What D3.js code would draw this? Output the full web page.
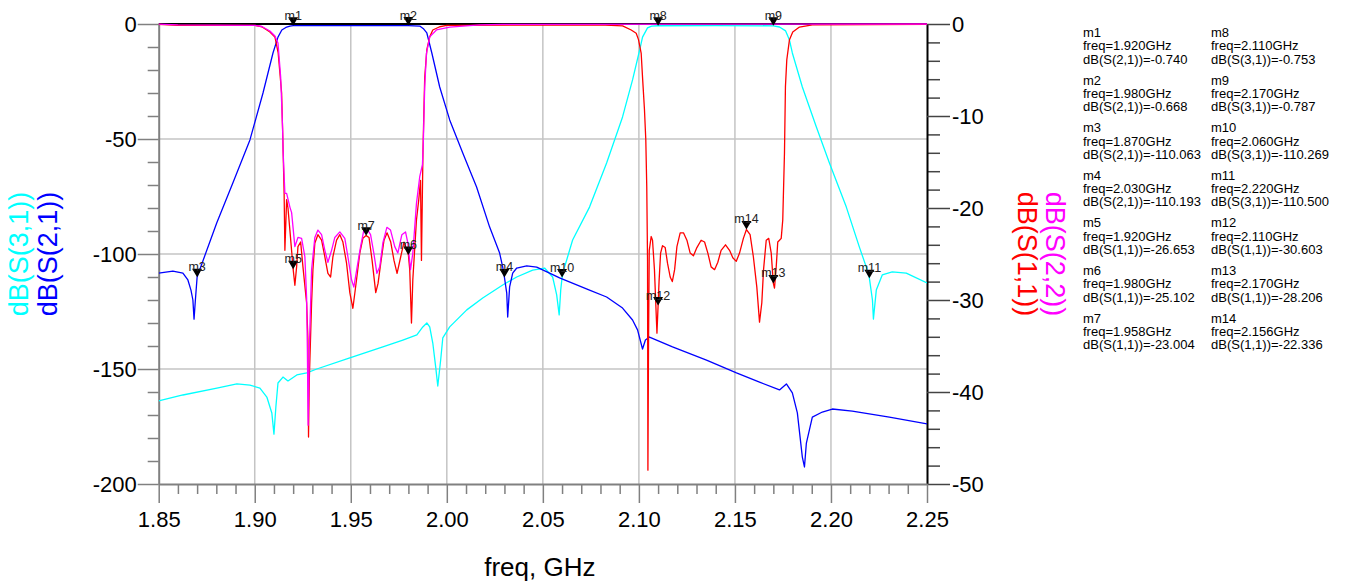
<!DOCTYPE html>
<html>
<head>
<meta charset="utf-8">
<script src="https://d3js.org/d3.v7.min.js"></script>
<style>
  body { margin: 0; background: #fff; }
  svg text { font-family: "Liberation Sans", Arial, sans-serif; }
</style>
</head>
<body>
<div id="chart"></div>
<script>

// ticks
const freqTicks = [1.85, 1.90, 1.95, 2.00, 2.05, 2.10, 2.15, 2.20, 2.25];
const leftTicks = [0, -50, -100, -150, -200];
const rightTicks = [0, -10, -20, -30, -40, -50];

// traces: [freq GHz, dB]
const s21 = [
  [1.8500,-108.3],[1.8574,-107.4],[1.8626,-108.3],[1.8652,-111.3],[1.8668,-115.7],[1.8678,-120],
  [1.8684,-128.3],[1.8691,-120],[1.8700,-110.06],[1.8715,-106.5],[1.8802,-86.5],[1.8886,-69.1],
  [1.8975,-50.4],[1.9043,-30],[1.9095,-12.6],[1.9121,-5.7],[1.9141,-2.6],[1.9162,-1.5],
  [1.9183,-0.9],[1.9200,-0.74],[1.9500,-0.7],[1.9800,-0.668],[1.9859,-0.9],[1.9880,-2.2],
  [1.9896,-3.9],[1.9922,-12.6],[1.9963,-27.4],[2.0015,-41.7],[2.0083,-56.1],[2.0155,-70.9],
  [2.0223,-88.3],[2.0275,-99.6],[2.0291,-105.7],[2.0300,-110.19],[2.0312,-117],[2.0317,-127.4],
  [2.0327,-114.3],[2.0343,-108.3],[2.0364,-106.1],[2.0416,-105.2],[2.0468,-105.7],[2.0535,-108.3],
  [2.0587,-110.4],[2.0743,-115.7],[2.0832,-118.7],[2.0915,-123.5],[2.0967,-128.7],[2.0993,-133],
  [2.1019,-141.3],[2.1034,-137.4],[2.1055,-136.1],[2.1175,-140.4],[2.1352,-146.1],[2.1508,-151.7],
  [2.1628,-155.7],[2.1732,-159.1],[2.1768,-156.5],[2.1799,-160.4],[2.1825,-169.1],[2.1851,-188.3],
  [2.1862,-192.6],[2.1872,-182.2],[2.1903,-170.9],[2.1955,-168.7],[2.2007,-167.4],[2.2111,-168.3],
  [2.2304,-170.9],[2.2500,-173.9]
];

const s31 = [
  [1.8500,-163.9],[1.8626,-161.3],[1.8803,-158.3],[1.8907,-156.5],[1.8975,-157],[1.9027,-158.3],
  [1.9063,-162.2],[1.9089,-169.1],[1.9100,-178.3],[1.9110,-166.5],[1.9121,-156.1],[1.9147,-153.5],
  [1.9173,-155.2],[1.9219,-152.6],[1.9271,-151.7],[1.9323,-150],[1.9495,-145.2],[1.9667,-140.4],
  [1.9771,-137.4],[1.9844,-135.2],[1.9875,-131.7],[1.9896,-130],[1.9911,-131.7],[1.9927,-138.7],
  [1.9942,-149.1],[1.9953,-157.4],[1.9968,-146.1],[1.9979,-136.5],[2.0015,-131.7],[2.0104,-124.3],
  [2.0187,-119.1],[2.0291,-113.5],[2.0364,-110],[2.0447,-107],[2.0509,-106.1],[2.0551,-110],
  [2.0572,-117.8],[2.0585,-126.5],[2.0593,-115.7],[2.0600,-110.27],[2.0613,-105.7],[2.0655,-93.9],
  [2.0743,-79.6],[2.0832,-60.4],[2.0915,-40.4],[2.0967,-24.3],[2.1004,-11.3],[2.1019,-5.7],
  [2.1045,-1.7],[2.1066,-0.9],[2.1100,-0.753],[2.1400,-0.7],[2.1700,-0.787],[2.1732,-1.3],
  [2.1764,-3],[2.1784,-7],[2.1799,-12.6],[2.1851,-27.4],[2.1924,-44.8],[2.1992,-60.4],
  [2.2080,-79.6],[2.2148,-97],[2.2184,-105.7],[2.2200,-110.5],[2.2216,-120],[2.2221,-128.3],
  [2.2236,-115.7],[2.2267,-109.1],[2.2319,-107.8],[2.2392,-108.3],[2.2500,-112.6]
];

const s11 = [
  [1.8500,-0.05],[1.8600,-0.15],[1.9001,-0.16],[1.9037,-0.3],[1.9079,-0.87],[1.9105,-1.41],
  [1.9122,-3.15],[1.9140,-7.5],[1.9145,-11.5],[1.9148,-14],[1.9153,-18.4],[1.9157,-24.6],
  [1.9166,-19.1],[1.9173,-20],[1.9183,-22.4],[1.9200,-26.65],[1.9209,-28.4],[1.9218,-26.4],
  [1.9225,-24.2],[1.9239,-23.7],[1.9251,-26.4],[1.9270,-30.3],[1.9277,-34.3],[1.9280,-44.9],
  [1.9284,-38.7],[1.9296,-30.3],[1.9303,-26.7],[1.9313,-23.8],[1.9329,-22.9],[1.9348,-23.5],
  [1.9365,-25.3],[1.9381,-27.1],[1.9395,-27.5],[1.9407,-25.3],[1.9426,-23.5],[1.9443,-22.9],
  [1.9459,-23.7],[1.9478,-26],[1.9495,-29.2],[1.9511,-30.9],[1.9530,-27.8],[1.9547,-24.9],
  [1.9563,-23.3],[1.9580,-23.0],[1.9595,-23.2],[1.9611,-25.7],[1.9630,-29.2],[1.9642,-28.2],
  [1.9656,-26],[1.9673,-23.5],[1.9689,-22.7],[1.9708,-23.7],[1.9725,-25.7],[1.9741,-27.1],
  [1.9760,-25.3],[1.9777,-23.7],[1.9800,-25.1],[1.9807,-26.7],[1.9816,-32.5],[1.9823,-27.8],
  [1.9842,-21.3],[1.9854,-19.1],[1.9863,-17],[1.9868,-25.7],[1.9876,-13.7],[1.9882,-8.3],
  [1.9885,-5.8],[1.9896,-2.8],[1.9911,-1.4],[1.9927,-0.65],[1.9963,-0.3],[1.9999,-0.15],
  [2.0795,-0.1],[2.0915,-0.2],[2.0960,-0.65],[2.0986,-1],[2.0998,-1.7],[2.1012,-3.2],
  [2.1019,-5.8],[2.1029,-9.3],[2.1036,-12.6],[2.1041,-17.7],[2.1045,-25.7],[2.1047,-48.5],
  [2.1050,-35.4],[2.1054,-24.6],[2.1064,-23.1],[2.1071,-23.5],[2.1081,-26.7],[2.1094,-33.6],
  [2.1100,-30.6],[2.1105,-28],[2.1113,-24.9],[2.1123,-24.1],[2.1137,-24.3],[2.1149,-26],
  [2.1163,-27.5],[2.1174,-28],[2.1186,-26.7],[2.1198,-24.2],[2.1215,-22.7],[2.1232,-22.7],
  [2.1250,-23.5],[2.1267,-24.9],[2.1284,-25.2],[2.1302,-24.3],[2.1324,-23.5],[2.1342,-23.7],
  [2.1359,-24.9],[2.1376,-26.4],[2.1394,-26.7],[2.1411,-25.9],[2.1428,-24.6],[2.1451,-24],
  [2.1472,-24.6],[2.1489,-25.4],[2.1507,-25.8],[2.1524,-24.9],[2.1544,-23.3],[2.1560,-22.34],
  [2.1579,-22.9],[2.1596,-25.3],[2.1614,-28.6],[2.1628,-32.4],[2.1640,-30.3],[2.1649,-26.7],
  [2.1663,-23.5],[2.1676,-23.3],[2.1689,-24.9],[2.1700,-28.2],[2.1706,-28.7],[2.1715,-26.4],
  [2.1723,-23.7],[2.1732,-23.5],[2.1741,-23.3],[2.1749,-21.3],[2.1758,-14],[2.1763,-6.8],
  [2.1770,-3.9],[2.1784,-1.7],[2.1801,-0.87],[2.1836,-0.33],[2.1903,-0.1],[2.2500,-0.05]
];

const s22 = [
  [1.8500,-0.02],[1.8600,-0.1],[1.9001,-0.15],[1.9037,-0.27],[1.9079,-0.76],[1.9105,-1.3],
  [1.9121,-2.07],[1.9135,-5.76],[1.9145,-11.3],[1.9148,-14],[1.9157,-18.4],[1.9166,-18.4],
  [1.9183,-19.9],[1.9192,-20.5],[1.9209,-24.2],[1.9225,-23.2],[1.9244,-23.3],[1.9261,-25.3],
  [1.9270,-29.7],[1.9274,-35.4],[1.9278,-43.6],[1.9284,-35.4],[1.9296,-26.7],[1.9313,-23.2],
  [1.9329,-22.4],[1.9348,-22.9],[1.9365,-24.6],[1.9381,-25.9],[1.9400,-24.6],[1.9417,-23.2],
  [1.9443,-22.6],[1.9469,-23.3],[1.9485,-25.3],[1.9504,-27.8],[1.9516,-28.6],[1.9531,-26.7],
  [1.9551,-24.2],[1.9568,-22.4],[1.9583,-22.2],[1.9603,-22.9],[1.9620,-24.9],[1.9636,-27.1],
  [1.9651,-26.4],[1.9667,-23.8],[1.9688,-22.1],[1.9707,-22.4],[1.9729,-24.2],[1.9745,-24.9],
  [1.9766,-22.9],[1.9785,-22.6],[1.9797,-23.8],[1.9811,-26.7],[1.9823,-24.9],[1.9842,-19.5],
  [1.9859,-16.6],[1.9873,-15.3],[1.9877,-13.4],[1.9885,-6.8],[1.9894,-3.2],[1.9911,-1.4],
  [1.9946,-0.65],[2.0015,-0.33],[2.0171,-0.1],[2.0291,-0.05],[2.2500,0]
];

// markers
const markers = [
  {name: "m1", trace: "S(2,1)", freq: 1.920, value: -0.740},
  {name: "m2", trace: "S(2,1)", freq: 1.980, value: -0.668},
  {name: "m3", trace: "S(2,1)", freq: 1.870, value: -110.063},
  {name: "m4", trace: "S(2,1)", freq: 2.030, value: -110.193},
  {name: "m5", trace: "S(1,1)", freq: 1.920, value: -26.653},
  {name: "m6", trace: "S(1,1)", freq: 1.980, value: -25.102},
  {name: "m7", trace: "S(1,1)", freq: 1.958, value: -23.004},
  {name: "m8", trace: "S(3,1)", freq: 2.110, value: -0.753},
  {name: "m9", trace: "S(3,1)", freq: 2.170, value: -0.787},
  {name: "m10", trace: "S(3,1)", freq: 2.060, value: -110.269},
  {name: "m11", trace: "S(3,1)", freq: 2.220, value: -110.500},
  {name: "m12", trace: "S(1,1)", freq: 2.110, value: -30.603},
  {name: "m13", trace: "S(1,1)", freq: 2.170, value: -28.206},
  {name: "m14", trace: "S(1,1)", freq: 2.156, value: -22.336}
];

// layout
const W = 1345, H = 585;
const plot = {left: 158.7, right: 927, top: 24, bottom: 484};
const font = '"Liberation Sans", Arial, sans-serif';

const svg = d3.select("#chart").append("svg")
    .attr("width", W).attr("height", H)
    .style("background", "#fff");

const x = d3.scaleLinear().domain([1.85, 2.25]).range([plot.left, plot.right]);
const yL = d3.scaleLinear().domain([-200, 0]).range([plot.bottom, plot.top]);
const yR = d3.scaleLinear().domain([-50, 0]).range([plot.bottom, plot.top]);

// grid
svg.append("g").selectAll("line")
  .data(freqTicks.slice(1, -1))
  .join("line")
    .attr("x1", d => x(d)).attr("x2", d => x(d))
    .attr("y1", plot.top).attr("y2", plot.bottom)
    .attr("stroke", "#c4c4c4").attr("stroke-width", 1.5);
svg.append("g").selectAll("line")
  .data(leftTicks.slice(1, -1))
  .join("line")
    .attr("x1", plot.left).attr("x2", plot.right)
    .attr("y1", d => yL(d)).attr("y2", d => yL(d))
    .attr("stroke", "#c4c4c4").attr("stroke-width", 1.5);

// top frame
svg.append("line")
  .attr("x1", plot.left).attr("x2", plot.right)
  .attr("y1", plot.top).attr("y2", plot.top)
  .attr("stroke", "#000").attr("stroke-width", 2);

// axes
function styleAxis(g, color) {
  g.select(".domain").attr("stroke", color).attr("stroke-width", 2);
  g.selectAll(".tick line").attr("stroke", color).attr("stroke-width", 1.5);
  g.selectAll(".tick text").attr("fill", "#000").style("font-size", "22px").style("font-family", font);
}

const minorLeft = d3.range(-200, 1, 10).filter(v => v % 50 !== 0);
const minorRight = d3.range(-50, 1, 2).filter(v => v % 10 !== 0);
const minorFreq = d3.range(0, 41).map(i => 1.85 + i * 0.01).filter((v, i) => i % 5 !== 0);

svg.append("g")
  .attr("transform", `translate(${plot.left},0)`)
  .call(d3.axisLeft(yL).tickValues(minorLeft).tickSize(11).tickFormat(""))
  .call(g => { g.select(".domain").remove(); styleAxis(g, "#808080"); });
svg.append("g")
  .attr("transform", `translate(${plot.left},0)`)
  .call(d3.axisLeft(yL).tickValues(leftTicks).tickSize(21).tickSizeOuter(0).tickPadding(1).tickFormat(d => String(d)))
  .call(g => styleAxis(g, "#808080"));

svg.append("g")
  .attr("transform", `translate(${plot.right},0)`)
  .call(d3.axisRight(yR).tickValues(minorRight).tickSize(13).tickFormat(""))
  .call(g => { g.select(".domain").remove(); styleAxis(g, "#444"); });
svg.append("g")
  .attr("transform", `translate(${plot.right},0)`)
  .call(d3.axisRight(yR).tickValues(rightTicks).tickSize(23).tickSizeOuter(0).tickPadding(2).tickFormat(d => String(d)))
  .call(g => { styleAxis(g, "#444"); g.select(".domain").attr("stroke", "#000"); });

svg.append("g")
  .attr("transform", `translate(0,${plot.bottom})`)
  .call(d3.axisBottom(x).tickValues(minorFreq).tickSize(10).tickFormat(""))
  .call(g => { g.select(".domain").remove(); styleAxis(g, "#808080"); });
svg.append("g")
  .attr("transform", `translate(0,${plot.bottom})`)
  .call(d3.axisBottom(x).tickValues(freqTicks).tickSize(19).tickSizeOuter(0).tickPadding(8).tickFormat(d => d.toFixed(2)))
  .call(g => styleAxis(g, "#808080"));

// axis titles
svg.append("text")
  .attr("x", (plot.left + plot.right) / 2 - 3).attr("y", 576)
  .attr("text-anchor", "middle").style("font-size", "26px").attr("fill", "#000")
  .text("freq, GHz");

const titles = [
  {text: "dB(S(3,1))", color: "#00ffff", x: 28, rot: -90},
  {text: "dB(S(2,1))", color: "#0000ff", x: 56.5, rot: -90},
  {text: "dB(S(1,1))", color: "#ff0000", x: 1018, rot: 90},
  {text: "dB(S(2,2))", color: "#ff00ff", x: 1046, rot: 90}
];
svg.append("g").selectAll("text")
  .data(titles)
  .join("text")
    .attr("transform", d => `translate(${d.x},254) rotate(${d.rot})`)
    .attr("text-anchor", "middle")
    .style("font-size", "27px")
    .attr("fill", d => d.color)
    .text(d => d.text);

// traces
svg.append("clipPath").attr("id", "clip")
  .append("rect")
    .attr("x", plot.left).attr("y", plot.top - 3)
    .attr("width", plot.right - plot.left).attr("height", plot.bottom - plot.top + 3);

const lineL = d3.line().x(d => x(d[0])).y(d => yL(d[1]));
const lineR = d3.line().x(d => x(d[0])).y(d => yR(d[1]));

const traces = [
  {data: s31, line: lineL, color: "#00ffff"},
  {data: s21, line: lineL, color: "#0000ff"},
  {data: s11, line: lineR, color: "#ff0000"},
  {data: s22, line: lineR, color: "#ff00ff"}
];
svg.append("g").attr("clip-path", "url(#clip)")
  .selectAll("path")
  .data(traces)
  .join("path")
    .attr("d", d => d.line(d.data))
    .attr("fill", "none")
    .attr("stroke", d => d.color)
    .attr("stroke-width", 1.3)
    .attr("stroke-linejoin", "round");

// markers on the traces
const markerY = m => (m.trace === "S(1,1)" || m.trace === "S(2,2)") ? yR(m.value) : yL(m.value);
const mk = svg.append("g").selectAll("g")
  .data(markers)
  .join("g")
    .attr("transform", m => `translate(${x(m.freq)},${markerY(m)})`);
mk.append("path")
  .attr("d", "M-5,-8.5L5,-8.5L0,0Z")
  .attr("fill", "#000");
mk.append("text")
  .attr("y", -6)
  .attr("text-anchor", "middle")
  .style("font-size", "12.5px")
  .attr("fill", "#222")
  .text(m => m.name);

// marker readout panel
const panel = svg.append("g").style("font-size", "13px").attr("fill", "#000");
markers.forEach((m, i) => {
  const px = i < 7 ? 1083 : 1211;
  const py = 37 + (i % 7) * 47.6;
  const lines = [m.name, `freq=${m.freq.toFixed(3)}GHz`, `dB(${m.trace})=${m.value.toFixed(3)}`];
  lines.forEach((t, k) => {
    panel.append("text").attr("x", px).attr("y", py + k * 13.3).text(t);
  });
});

</script>
</body>
</html>
